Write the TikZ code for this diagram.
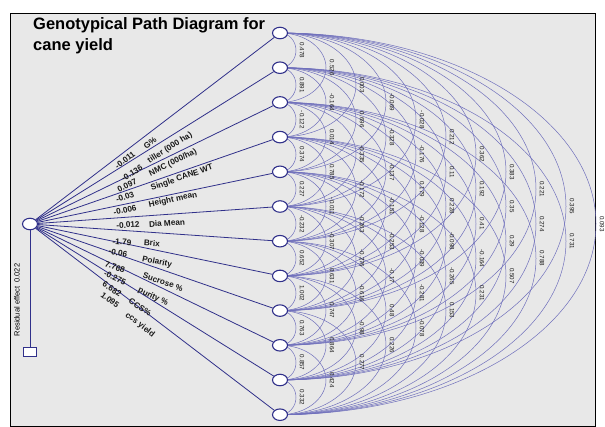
\documentclass[tikz,border=0pt]{standalone}
\usepackage{fontspec}
\setmainfont{Liberation Sans}
\usetikzlibrary{calc,shapes.geometric}
\pgfdeclarelayer{bg}
\pgfsetlayers{bg,main}
\definecolor{navy}{RGB}{48,48,138}
\definecolor{arccol}{RGB}{112,112,188}
\definecolor{paper}{RGB}{232,232,232}
\begin{document}
\begin{tikzpicture}[x=1pt,y=-1pt,
  var/.style={ellipse, draw=navy, line width=1.1pt, fill=white, minimum width=15pt, minimum height=11.5pt, inner sep=0pt},
  resbox/.style={rectangle, draw=navy, line width=1.1pt, fill=white, minimum width=13pt, minimum height=9pt, inner sep=0pt},
  pathline/.style={draw=navy, line width=0.8pt},
  arcline/.style={draw=arccol, line width=0.5pt},
  corr/.style={font=\fontsize{6.2}{6.2}\selectfont, text=black!90, rotate=-90, inner sep=0pt},
  lbl/.style={font=\fontsize{8.2}{8.5}\selectfont\bfseries, text=black!90, inner sep=0pt},
  ttl/.style={font=\fontsize{16.5}{20}\selectfont\bfseries, anchor=base west, inner sep=0pt}
]
\useasboundingbox (0,0) rectangle (605,426);
% title
\node[ttl] (t1) at (33,29) {Genotypical Path Diagram for};
\node[ttl] (t2) at (33,50) {cane yield};
% variable nodes
\foreach \i in {0,...,11}{
  \node[var] (c\i) at (280,{33+34.7*\i}) {};
}
\node[var] (L) at (30,224) {};
\node[resbox] (R) at (30,352) {};
\node[rotate=90, font=\fontsize{7.5}{8}\selectfont, inner sep=0pt] (res) at (17,300) {Residual effect\ \ 0.022};
\draw[pathline] (L) -- (R);
% straight paths
\foreach \i in {0,...,11}{
  \draw[pathline] (L) -- (c\i);
}
% path labels: value and variable name along each path
\foreach \i/\vx/\vy/\nx/\ny/\v/\n in {
  0/125/160/150/143/-0.011/G\%,
  1/132/173/170/148/-0.136/tiller (000 ha),
  2/127/185/173/163/0.097/NMC (000\slash ha),
  3/125/197/182/178/-0.03/Single CANE WT,
  4/125/210/173/200/-0.006/Height mean,
  5/128/225/167/223/-0.012/Dia Mean,
  6/122/242/152/243/-1.79/Brix,
  7/118/253/157/262/-0.06/Polarity,
  8/115/267/163/282/7.768/Sucrose \%,
  9/115/278/153/297/-0.275/purity \%,
  10/112/289/140/307/6.682/CCS\%,
  11/110/300/140/325/1.095/ccs yield}{
  \pgfmathsetmacro\ang{atan((224-(33+34.7*\i))/250)}
  \node[lbl, rotate=\ang] (v\i) at (\vx,\vy) {\v};
  \node[lbl, rotate=\ang] (n\i) at (\nx,\ny) {\n};
}
% correlation labels
\foreach \d/\vals in {
  1/{0.478,0.891,-0.122,0.374,0.227,-0.232,0.652,1.002,0.763,0.857,0.332},
  2/{0.526,-0.164,0.014,0.785,-0.011,-0.307,0.631,0.747,0.864,0.424},
  3/{0.003,0.696,-0.335,-0.172,-0.263,-0.276,-0.616,-0.98,0.277},
  4/{-0.069,-0.328,-0.137,-0.151,-0.253,-0.17,0.48,0.226},
  5/{-0.028,-0.176,0.179,-0.128,-0.039,-0.281,-0.078},
  6/{0.212,0.11,0.228,-0.098,-0.265,0.153},
  7/{0.362,0.192,0.41,-0.164,0.231},
  8/{0.383,0.35,0.29,0.507},
  9/{0.221,0.274,0.788},
  10/{0.395,0.731},
  11/{0.093}}{
  \foreach \v [count=\k from 0] in \vals {
    \node[corr] (r\d-\k) at ({272+30*\d},{33+34.7*(\k+\d/2)}) {\v};
  }
}
% background and arcs
\begin{pgfonlayer}{bg}
  \fill[white] (0,0) rectangle (605,426);
  \draw[fill=paper, line width=0.8pt] (10,13) rectangle (595,426);
  \foreach \i in {0,...,10}{
    \pgfmathtruncatemacro\s{\i+1}
    \foreach \j in {\s,...,11}{
      \pgfmathsetmacro\a{30*(\j-\i)-14}
      \pgfmathsetmacro\b{17.35*(\j-\i)}
      \draw[arcline] (c\i.center) arc[start angle=90, end angle=-90, x radius=\a pt, y radius=\b pt];
    }
  }
\end{pgfonlayer}
\end{tikzpicture}
\end{document}
